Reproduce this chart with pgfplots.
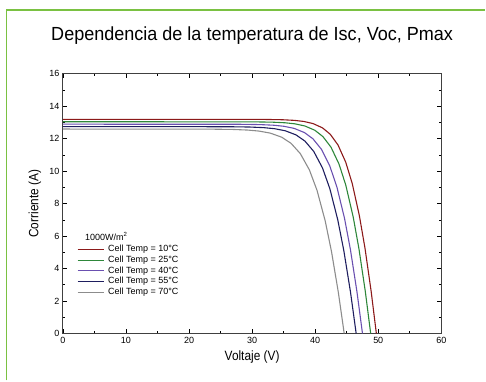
\documentclass[border=0pt]{standalone}
\usepackage{pgfplots}
\pgfplotsset{compat=1.18}
\usepackage{fontspec}
\setmainfont{Liberation Sans}
\newfontfamily\condensed[FakeStretch=0.95]{Liberation Sans}
\newfontfamily\labelfont[FakeStretch=0.88]{Liberation Sans}
\definecolor{framegreen}{RGB}{122,193,66}
\definecolor{c10}{RGB}{140,26,26}
\definecolor{c25}{RGB}{46,135,58}
\definecolor{c40}{RGB}{106,80,176}
\definecolor{c55}{RGB}{30,30,95}
\definecolor{c70}{RGB}{140,140,140}
\begin{document}
\begin{tikzpicture}[x=1pt,y=1pt]
\path (0,0) rectangle (486,381);
\draw[framegreen, line width=1.5pt] (6.5,0) -- (6.5,371) -- (486,371);
\begin{axis}[
  at={(63pt,47pt)}, anchor=south west,
  scale only axis, width=379pt, height=260pt,
  xmin=0, xmax=60, ymin=0, ymax=16,
  xtick={0,10,...,60}, ytick={0,2,...,16},
  minor x tick num=1, minor y tick num=1,
  tick align=inside, major tick length=4pt, minor tick length=2.5pt,
  axis line style={black!75, line width=1pt},
  every tick/.style={black, line width=0.8pt},
  tick label style={font=\fontsize{9}{10}\selectfont},
  /pgf/number format/assume math mode=true,
  title={\condensed\fontsize{19}{22}\selectfont Dependencia de la temperatura de Isc, Voc, Pmax},
  title style={at={(axis description cs:0.5,1)}, anchor=center, yshift=32pt},
  xlabel={\labelfont\fontsize{13.5}{16}\selectfont Voltaje (V)},
  xlabel style={at={(axis description cs:0.5,0)}, anchor=center, yshift=-24pt},
  ylabel={\labelfont\fontsize{13.5}{16}\selectfont Corriente (A)},
  ylabel style={at={(axis description cs:0,0.5)}, anchor=center, yshift=28pt},
  legend style={at={(axis cs:1.75,6.25)}, anchor=north west, draw=none, fill=none,
    font=\fontsize{9}{10}\selectfont, row sep=2.3pt, column sep=4pt,
    nodes={inner sep=0pt, text height=6.5pt, text depth=2pt}},
  legend cell align=left,
  legend image code/.code={\draw[#1, line width=1pt] (0pt,0pt) -- (26pt,0pt);},
  every axis plot/.append style={line width=1.1pt},
]
\addlegendimage{empty legend}
\addlegendentry{\hspace*{-23pt}1000W/m\textsuperscript{2}}
\addplot[c10] coordinates {(0,13.2) (31.891,13.193) (34.805,13.174) (36.735,13.134) (38.200,13.068) (39.674,12.936) (41.166,12.672) (42.397,12.276) (43.621,11.616) (44.842,10.56) (45.878,9.24) (47.007,7.26) (47.888,5.28) (48.862,2.64) (49.7,0)};
\addlegendentry{Cell Temp = 10°C}
\addplot[c25] coordinates {(0,13.05) (30.176,13.0435) (33.242,13.0239) (35.273,12.98475) (36.814,12.9195) (38.364,12.789) (39.932,12.528) (41.224,12.1365) (42.506,11.484) (43.782,10.44) (44.860,9.135) (46.030,7.1775) (46.940,5.22) (47.942,2.61) (48.8,0)};
\addlegendentry{Cell Temp = 25°C}
\addplot[c40] coordinates {(0,12.9) (28.061,12.8936) (31.280,12.8742) (33.411,12.8355) (35.028,12.771) (36.654,12.642) (38.298,12.384) (39.651,11.997) (40.992,11.352) (42.321,10.32) (43.443,9.03) (44.654,7.095) (45.593,5.16) (46.621,2.58) (47.5,0)};
\addlegendentry{Cell Temp = 40°C}
\addplot[c55] coordinates {(0,12.75) (26.246,12.7436) (29.617,12.7245) (31.849,12.686) (33.542,12.6225) (35.245,12.495) (36.964,12.24) (38.378,11.8575) (39.777,11.22) (41.161,10.20) (42.325,8.925) (43.578,7.0125) (44.545,5.10) (45.601,2.55) (46.5,0)};
\addlegendentry{Cell Temp = 55°C}
\addplot[c70] coordinates {(0,12.6) (23.455,12.5937) (26.992,12.5748) (29.334,12.537) (31.110,12.474) (32.896,12.348) (34.698,12.096) (36.178,11.718) (37.641,11.088) (39.085,10.08) (40.295,8.82) (41.594,6.93) (42.592,5.04) (43.678,2.52) (44.6,0)};
\addlegendentry{Cell Temp = 70°C}
\end{axis}
\end{tikzpicture}
\end{document}
